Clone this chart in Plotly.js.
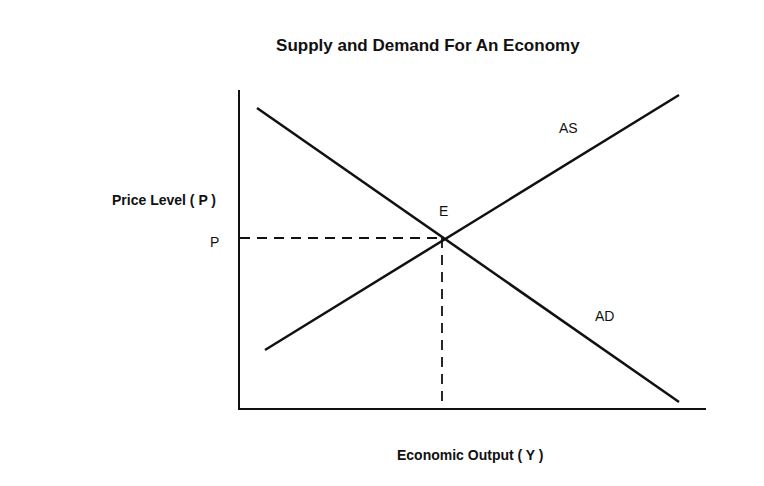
<!DOCTYPE html>
<html>
<head>
<script src="https://cdn.plot.ly/plotly-3.0.1.min.js"></script>
<style>body{margin:0;background:#fff}</style>
</head>
<body>
<div id="chart" style="width:764px;height:486px"></div>
<script>
// curve end points (arbitrary units)
var adX = [17, 439];
var adY = [300, 6];
var asX = [25, 439];
var asY = [58, 313];
var eqX = 202;
var eqY = 170;

var lineStyle = {color: '#111', width: 2.5};

var ad = {x: adX, y: adY, mode: 'lines', type: 'scatter', line: lineStyle, hoverinfo: 'skip'};
var as = {x: asX, y: asY, mode: 'lines', type: 'scatter', line: lineStyle, hoverinfo: 'skip'};
var hDash = {x: [0, eqX], y: [eqY, eqY], mode: 'lines', type: 'scatter',
  line: {color: '#111', width: 1.8, dash: '10px,7px'}, hoverinfo: 'skip'};
var vDash = {x: [eqX, eqX], y: [eqY, 0], mode: 'lines', type: 'scatter',
  line: {color: '#111', width: 1.8, dash: '10px,7px'}, hoverinfo: 'skip'};

var f = {family: 'Liberation Sans, Arial, sans-serif', size: 14, color: '#111'};

var lay = {
  width: 764, height: 486,
  margin: {l: 240, r: 58, t: 90, b: 78},
  showlegend: false,
  paper_bgcolor: '#fff', plot_bgcolor: '#fff',
  title: {text: '<b>Supply and Demand For An Economy</b>', x: 0.56, y: 0.92,
    font: {family: f.family, size: 17, color: '#111'}},
  xaxis: {range: [0, 466], showline: true, linecolor: '#111', linewidth: 2,
    showgrid: false, zeroline: false, showticklabels: false, ticks: ''},
  yaxis: {range: [0, 318], showline: true, linecolor: '#111', linewidth: 2,
    showgrid: false, zeroline: false, showticklabels: false, ticks: ''},
  annotations: [
    {x: eqX + 1, y: eqY + 27, text: 'E', showarrow: false, font: f},
    {x: 328, y: 280, text: 'AS', showarrow: false, font: f},
    {x: 364, y: 92, text: 'AD', showarrow: false, font: f},
    {xref: 'paper', yref: 'paper', x: -0.069, y: 0.522, text: 'P', showarrow: false, font: f},
    {xref: 'paper', yref: 'paper', x: -0.279, y: 0.654, text: '<b>Price Level ( P )</b>', showarrow: false, font: f},
    {xref: 'paper', yref: 'paper', x: 0.494, y: -0.179, text: '<b>Economic Output ( Y )</b>', showarrow: false, font: f}
  ]
};

Plotly.newPlot('chart', [ad, as, hDash, vDash], lay, {displayModeBar: false, staticPlot: true});
</script>
</body>
</html>
